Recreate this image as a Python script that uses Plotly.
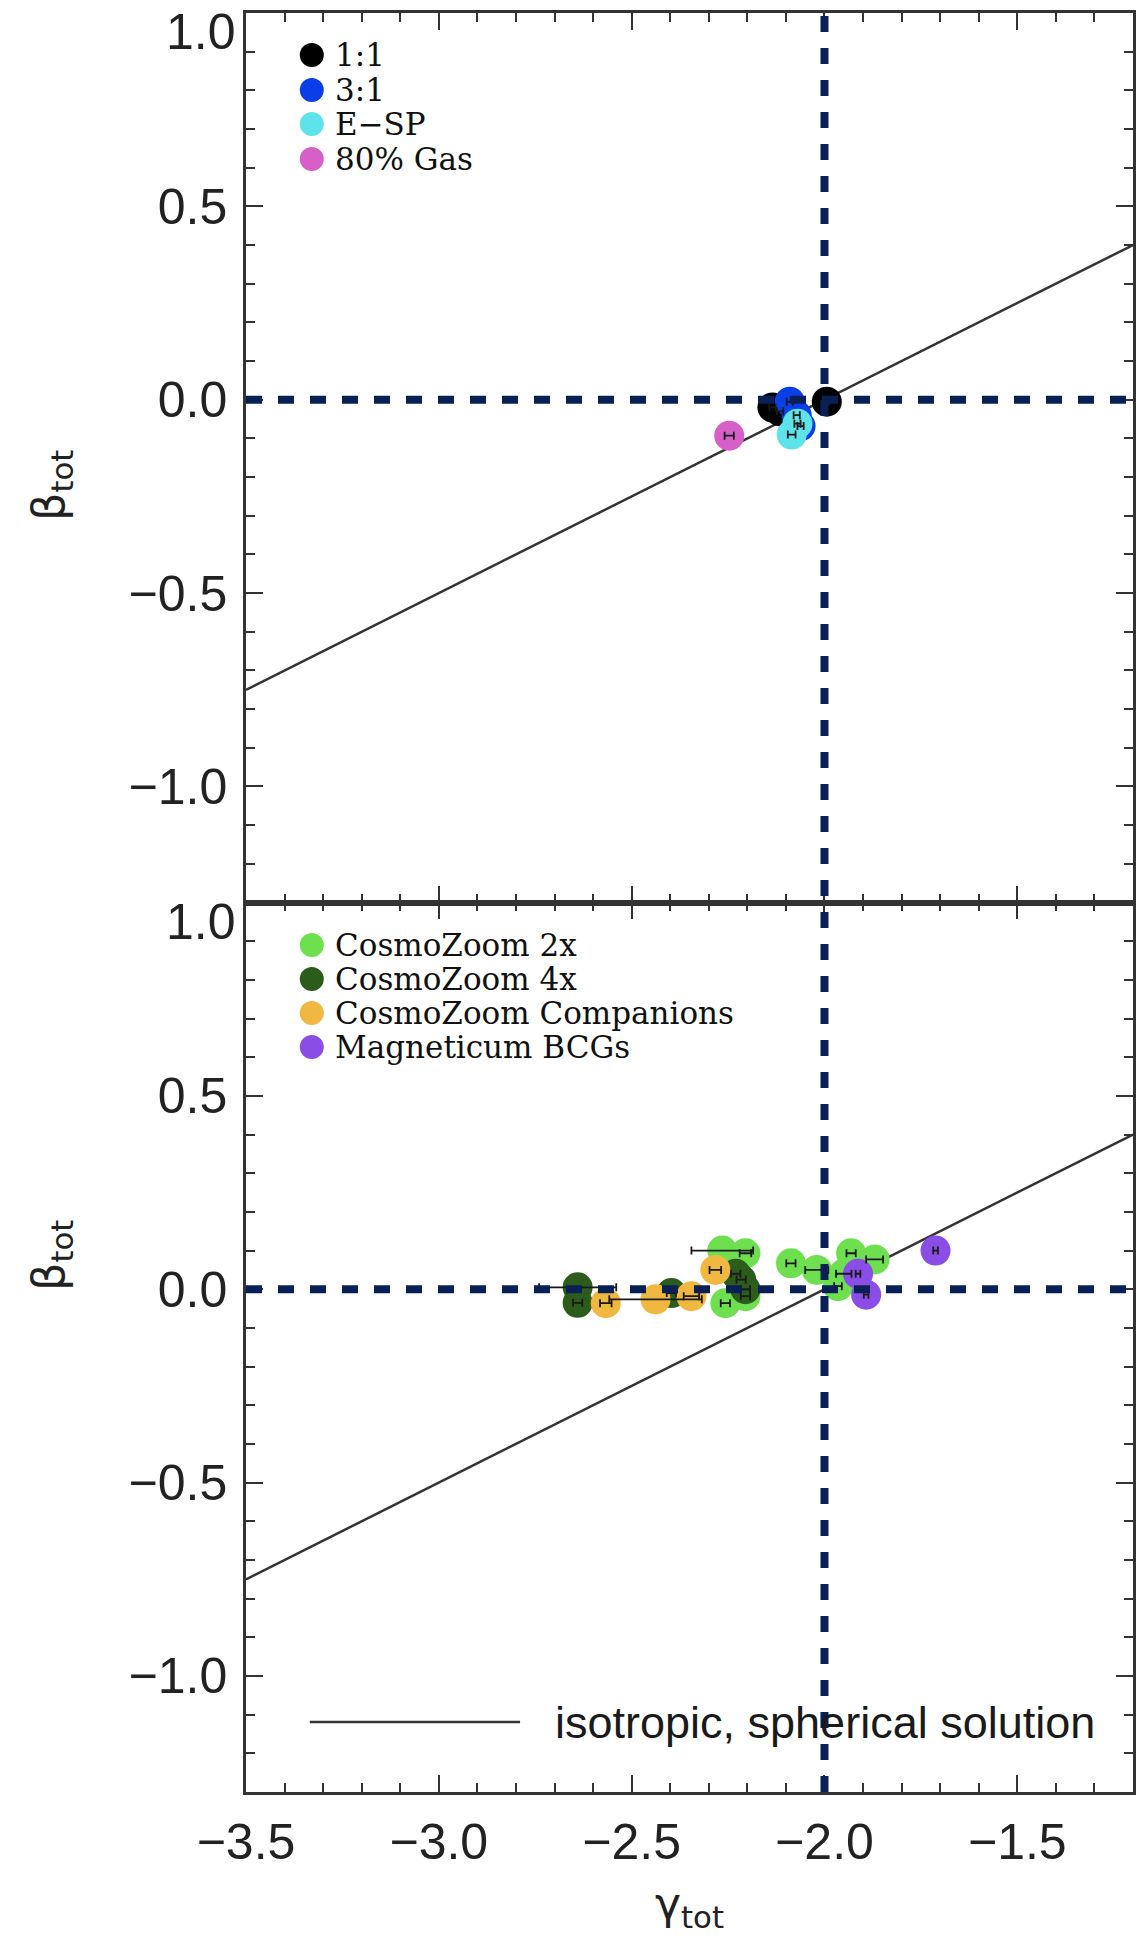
import plotly.graph_objects as go

# ---------------- data ----------------
# upper panel (mergers)
m11_gamma = [-2.135, -2.115, -1.994]
m11_beta = [-0.020, -0.030, -0.005]
m11_err = [0.008, 0.008, 0.006]

m31_gamma = [-2.090, -2.072, -2.062]
m31_beta = [-0.005, -0.040, -0.068]
m31_err = [0.008, 0.008, 0.008]

esp_gamma = [-2.085, -2.070]
esp_beta = [-0.090, -0.062]
esp_err = [0.010, 0.008]

gas_gamma = [-2.247]
gas_beta = [-0.093]
gas_err = [0.012]

# lower panel (cosmological)
cz2_gamma = [-2.265, -2.205, -2.257, -2.205, -2.087, -2.020, -1.931, -1.870, -1.950, -1.965]
cz2_beta = [0.100, 0.093, -0.036, -0.018, 0.067, 0.050, 0.093, 0.077, 0.040, 0.008]
cz2_err = [0.080, 0.015, 0.012, 0.012, 0.012, 0.030, 0.012, 0.022, 0.020, 0.010]

cz4_gamma = [-2.640, -2.640, -2.397, -2.230, -2.216, -2.205]
cz4_beta = [0.005, -0.035, -0.010, 0.040, 0.025, 0.000]
cz4_err = [0.100, 0.012, 0.012, 0.012, 0.012, 0.012]

czc_gamma = [-2.567, -2.438, -2.345, -2.283]
czc_beta = [-0.036, -0.026, -0.018, 0.050]
czc_err = [0.015, 0.120, 0.020, 0.015]

mag_gamma = [-1.913, -1.892, -1.712]
mag_beta = [0.040, -0.014, 0.100]
mag_err = [0.006, 0.006, 0.006]

# isotropic, spherical solution
iso_gamma = [-3.5, -1.2]
iso_beta = [-0.75, 0.40]

# reference lines
ref_gamma = -2.0
ref_beta = 0.0

x_range = [-3.5, -1.2]
y_range = [-1.3, 1.0]
y_tickvals = [-1.0, -0.5, 0.0, 0.5]
y_ticktext = ["\u22121.0", "\u22120.5", "0.0", "0.5"]
x_tickvals = [-3.5, -3.0, -2.5, -2.0, -1.5]
x_ticktext = ["\u22123.5", "\u22123.0", "\u22122.5", "\u22122.0", "\u22121.5"]

top_series = [
    ("1:1", m11_gamma, m11_beta, m11_err, "#000000"),
    ("3:1", m31_gamma, m31_beta, m31_err, "#0a3ee6"),
    ("E\u2212SP", esp_gamma, esp_beta, esp_err, "#5fe3ea"),
    ("80% Gas", gas_gamma, gas_beta, gas_err, "#d660c8"),
]
bot_series = [
    ("CosmoZoom 2x", cz2_gamma, cz2_beta, cz2_err, "#6ee050"),
    ("CosmoZoom 4x", cz4_gamma, cz4_beta, cz4_err, "#2b5c1c"),
    ("CosmoZoom Companions", czc_gamma, czc_beta, czc_err, "#f0b840"),
    ("Magneticum BCGs", mag_gamma, mag_beta, mag_err, "#8a4ee6"),
]

W, H = 1146, 1944
ML, MR, MT, MB = 246, 10, 13, 152
PW = W - ML - MR
PH = H - MT - MB


def px(xp):
    return (xp - ML) / PW


def py(yp):
    return (H - MB - yp) / PH


fig = go.Figure()

for xa, ya, series in (("x", "y", top_series), ("x2", "y2", bot_series)):
    fig.add_trace(go.Scatter(x=iso_gamma, y=iso_beta, mode="lines",
                             line=dict(color="#333333", width=2.5),
                             xaxis=xa, yaxis=ya, showlegend=False, hoverinfo="skip"))
    for name, gx, by, er, col in series:
        fig.add_trace(go.Scatter(x=gx, y=by, mode="markers", name=name,
                                 marker=dict(size=30, color=col, line=dict(width=0)),
                                 xaxis=xa, yaxis=ya, showlegend=False))
    for name, gx, by, er, col in series:
        fig.add_trace(go.Scatter(x=gx, y=by, mode="markers",
                                 marker=dict(size=1, color="rgba(0,0,0,0)"),
                                 error_x=dict(type="data", array=er, color="#1a1a1a",
                                              thickness=1.8, width=4),
                                 xaxis=xa, yaxis=ya, showlegend=False, hoverinfo="skip"))

axis_common = dict(
    showline=True, linecolor="#333333", linewidth=2.5, mirror="ticks",
    ticks="inside", ticklen=17, tickwidth=2, tickcolor="#333333",
    showgrid=False, zeroline=False,
    minor=dict(ticks="inside", ticklen=9, tickwidth=2, tickcolor="#333333",
               tickmode="linear", dtick=0.1, showgrid=False),
)
tickfont = dict(family="Liberation Sans", size=50, color="#222222")

fig.update_layout(
    width=W, height=H,
    margin=dict(l=ML, r=MR, t=MT, b=MB),
    paper_bgcolor="white", plot_bgcolor="white",
    showlegend=False,
    xaxis=dict(domain=[0, 1], anchor="y", range=x_range, tickmode="array",
               tickvals=x_tickvals, ticktext=x_ticktext, showticklabels=False,
               **{**axis_common, "minor": {**axis_common["minor"], "tick0": -3.5}}),
    xaxis2=dict(domain=[0, 1], anchor="y2", range=x_range, tickmode="array",
                tickvals=x_tickvals, ticktext=x_ticktext, showticklabels=True,
                tickfont=tickfont, ticklabelstandoff=4,
                **{**axis_common, "minor": {**axis_common["minor"], "tick0": -3.5}}),
    yaxis=dict(domain=[0.5, 1], anchor="x", range=y_range, tickmode="array",
               tickvals=y_tickvals, ticktext=y_ticktext, tickfont=tickfont,
               ticklabelstandoff=6,
               **{**axis_common, "minor": {**axis_common["minor"], "tick0": 0}}),
    yaxis2=dict(domain=[0, 0.5], anchor="x2", range=y_range, tickmode="array",
                tickvals=y_tickvals, ticktext=y_ticktext, tickfont=tickfont,
                ticklabelstandoff=6,
                **{**axis_common, "minor": {**axis_common["minor"], "tick0": 0}}),
)

dash_col = "#0b1f57"
shapes = [
    dict(type="line", xref="x2", yref="paper", x0=ref_gamma, x1=ref_gamma, y0=0, y1=1,
         line=dict(color=dash_col, width=8, dash="16px,16px"), layer="above"),
    dict(type="line", xref="paper", yref="y", x0=0, x1=1, y0=ref_beta, y1=ref_beta,
         line=dict(color=dash_col, width=8, dash="16px,16px"), layer="above"),
    dict(type="line", xref="paper", yref="y2", x0=0, x1=1, y0=ref_beta, y1=ref_beta,
         line=dict(color=dash_col, width=8, dash="16px,16px"), layer="above"),
    # isotropic legend line
    dict(type="line", xref="paper", yref="paper", x0=px(310), x1=px(521),
         y0=py(1722), y1=py(1722), line=dict(color="#333333", width=2.5)),
]

annotations = []
legend_font = dict(family="DejaVu Serif", size=31, color="#111111")
for series, rows in ((top_series, [55, 90, 124, 159]), (bot_series, [945, 979, 1013, 1047])):
    for (name, gx, by, er, col), yr in zip(series, rows):
        shapes.append(dict(type="circle", xref="paper", yref="paper",
                           xsizemode="pixel", ysizemode="pixel",
                           xanchor=px(312), yanchor=py(yr),
                           x0=-12, x1=12, y0=-12, y1=12,
                           fillcolor=col, line=dict(width=0)))
        annotations.append(dict(xref="paper", yref="paper", x=px(334), y=py(yr),
                                xanchor="left", yanchor="middle", text=name,
                                showarrow=False, font=legend_font, borderpad=0))

annotations.append(dict(xref="paper", yref="paper", x=px(554), y=py(1722),
                        xanchor="left", yanchor="middle",
                        text="isotropic, spherical solution", showarrow=False,
                        font=dict(family="Liberation Sans", size=45, color="#1a1a1a")))

for yref in ("y", "y2"):
    annotations.append(dict(xref="paper", yref=yref, x=0, y=1.0, xanchor="right",
                            yanchor="middle", xshift=-8, yshift=-19, text="1.0",
                            showarrow=False, font=tickfont))

label_font = dict(family="DejaVu Sans", size=44, color="#222222")
annotations.append(dict(xref="paper", yref="paper", x=px(691), y=py(1906),
                        xanchor="center", yanchor="middle",
                        text="\u03b3<sub>tot</sub>", showarrow=False, font=label_font))
for yc in (485, 1255):
    annotations.append(dict(xref="paper", yref="paper", x=px(50), y=py(yc),
                            xanchor="center", yanchor="middle", textangle=-90,
                            text="\u03b2<sub>tot</sub>", showarrow=False, font=label_font))

fig.update_layout(shapes=shapes, annotations=annotations)

fig.write_html("out.html")
